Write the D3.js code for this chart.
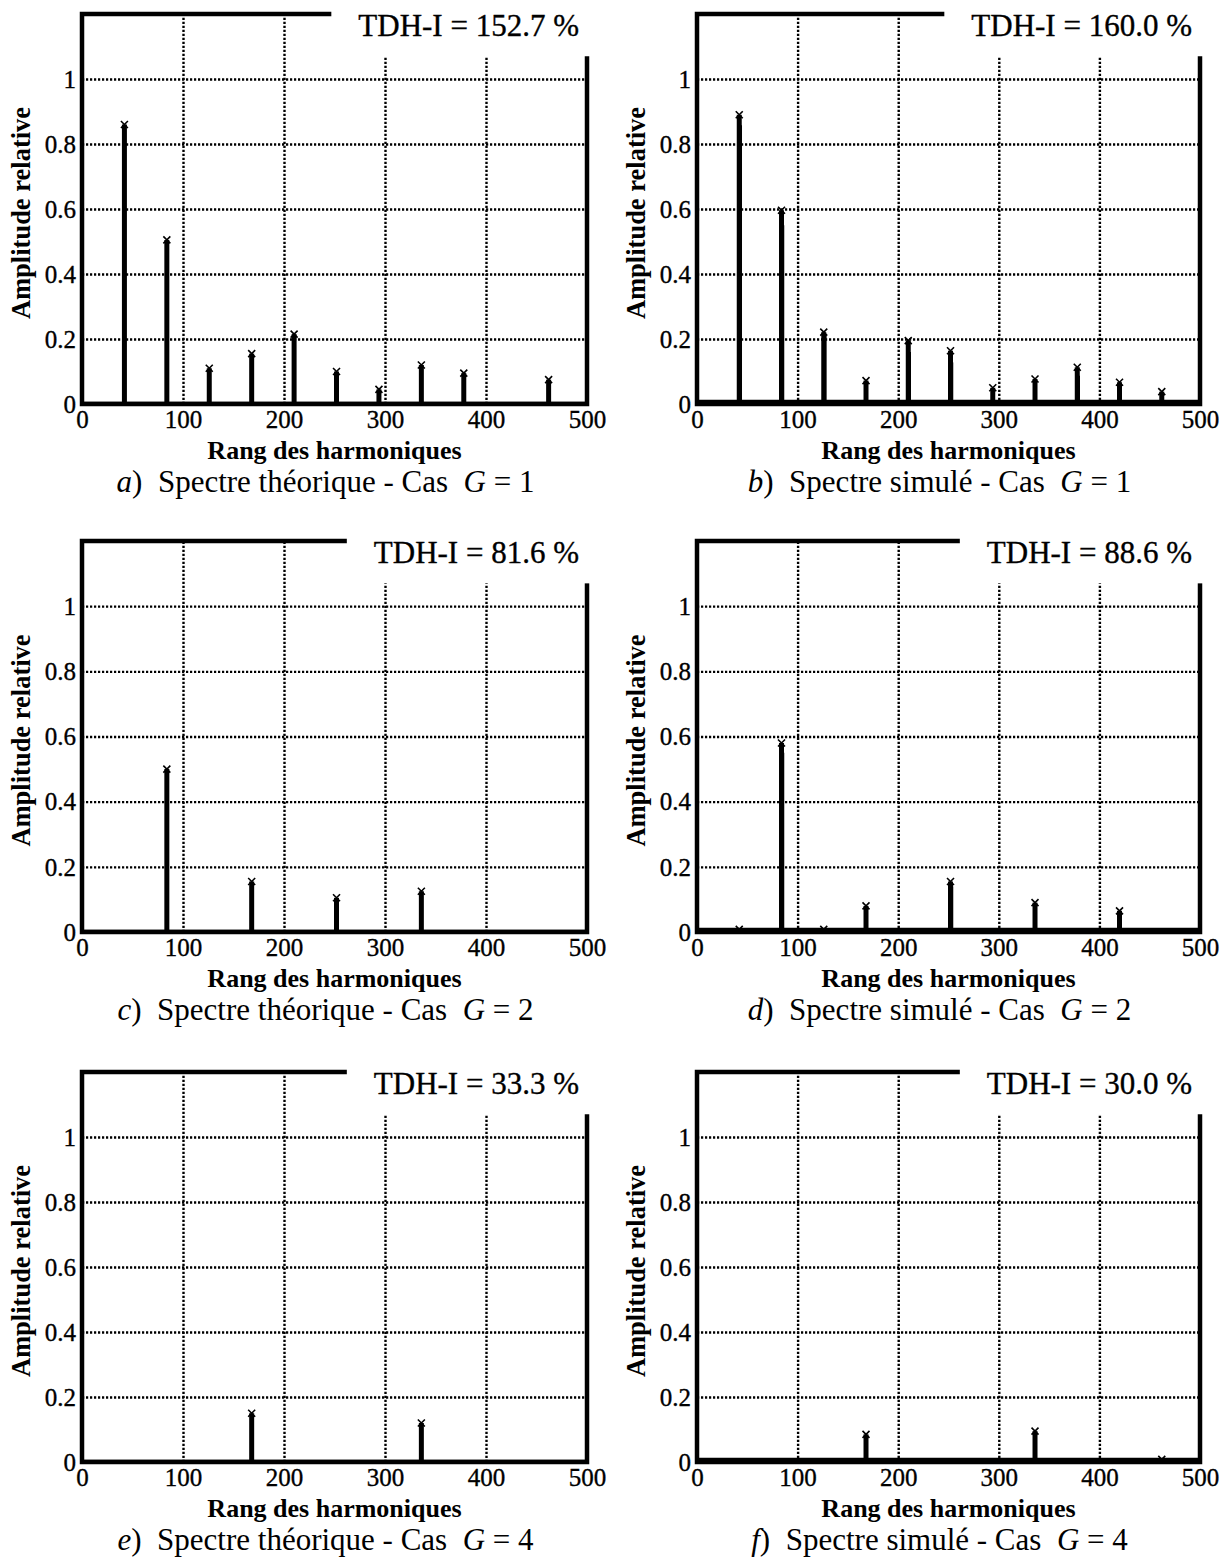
<!DOCTYPE html>
<html>
<head>
<meta charset="utf-8">
<script src="https://cdn.jsdelivr.net/npm/d3@7"></script>
<style>
  html, body { margin: 0; padding: 0; background: #ffffff; }
  svg { display: block; }
  text { font-family: "Liberation Serif", "Times New Roman", serif; fill: #000; }
  .heavy { stroke: #000; stroke-width: 0.35; }
</style>
</head>
<body>
<svg id="chart" width="1227" height="1565"></svg>
<script>
// ---------------- data ----------------
const xTicks = [0, 100, 200, 300, 400, 500];
const yTicks = [0, 0.2, 0.4, 0.6, 0.8, 1];
const yTickLabels = ["0", "0.2", "0.4", "0.6", "0.8", "1"];

const tdhLabels = ["TDH-I = 152.7 %", "TDH-I = 160.0 %", "TDH-I = 81.6 %",
                   "TDH-I = 88.6 %", "TDH-I = 33.3 %", "TDH-I = 30.0 %"];
const captionLetters = ["a", "b", "c", "d", "e", "f"];
const captionTexts = ["Spectre théorique - Cas", "Spectre simulé - Cas",
                      "Spectre théorique - Cas", "Spectre simulé - Cas",
                      "Spectre théorique - Cas", "Spectre simulé - Cas"];
const gValues = [1, 1, 2, 2, 4, 4];

// panel a : theoretical spectrum, G = 1
const harmA = [42, 84, 126, 168, 210, 252, 294, 336, 378, 462];
const ampA  = [0.86, 0.505, 0.11, 0.155, 0.215, 0.10, 0.045, 0.12, 0.095, 0.075];
// panel b : simulated spectrum, G = 1
const harmB = [42, 84, 126, 168, 210, 252, 294, 336, 378, 420, 462];
const ampB  = [0.89, 0.596, 0.221, 0.072, 0.195, 0.164, 0.05, 0.077, 0.113, 0.067, 0.038];
const sideHarmB = [43, 85, 127, 211, 253, 379];
const sideAmpB  = [0.858, 0.55, 0.21, 0.16, 0.128, 0.087];
// panel c : theoretical spectrum, G = 2
const harmC = [84, 168, 252, 336];
const ampC  = [0.50, 0.155, 0.105, 0.125];
// panel d : simulated spectrum, G = 2
const harmD = [42, 84, 126, 168, 252, 336, 420];
const ampD  = [0.008, 0.58, 0.008, 0.08, 0.155, 0.09, 0.065];
const sideHarmD = [85, 253];
const sideAmpD  = [0.55, 0.14];
// panel e : theoretical spectrum, G = 4
const harmE = [168, 336];
const ampE  = [0.15, 0.12];
// panel f : simulated spectrum, G = 4
const harmF = [168, 336, 462];
const ampF  = [0.085, 0.095, 0.008];
const sideHarmF = [];
const sideAmpF  = [];

const series = [
  { h: harmA, v: ampA, sh: [], sv: [], sim: false },
  { h: harmB, v: ampB, sh: sideHarmB, sv: sideAmpB, sim: true },
  { h: harmC, v: ampC, sh: [], sv: [], sim: false },
  { h: harmD, v: ampD, sh: sideHarmD, sv: sideAmpD, sim: true },
  { h: harmE, v: ampE, sh: [], sv: [], sim: false },
  { h: harmF, v: ampF, sh: sideHarmF, sv: sideAmpF, sim: true }
];

// ---------------- layout ----------------
const colX = [[82, 587], [697, 1200]];
const rowY = [[14, 404], [541, 932], [1072, 1462]];

const svg = d3.select("#chart");
svg.append("rect").attr("width", 1227).attr("height", 1565).attr("fill", "#fff");

series.forEach((s, i) => {
  const col = i % 2, row = Math.floor(i / 2);
  const [x0, x1] = colX[col];
  const [yTop, yBot] = rowY[row];
  const x = d3.scaleLinear().domain([0, 500]).range([x0, x1]);
  const y = d3.scaleLinear().domain([0, 1.2]).range([yBot, yTop]);
  const g = svg.append("g");

  // grid (dotted)
  const gridX = d3.axisBottom(x).tickValues(xTicks.slice(1, -1))
    .tickSize(-(yBot - yTop)).tickFormat("");
  g.append("g").attr("transform", `translate(0,${yBot})`).call(gridX)
    .call(a => a.select(".domain").remove())
    .call(a => a.selectAll("text").remove())
    .selectAll("line").attr("stroke", "#000").attr("stroke-width", 2.4)
    .attr("stroke-dasharray", "2.2,1.8");
  const gridY = d3.axisLeft(y).tickValues(yTicks.slice(1))
    .tickSize(-(x1 - x0)).tickFormat("");
  g.append("g").attr("transform", `translate(${x0},0)`).call(gridY)
    .call(a => a.select(".domain").remove())
    .call(a => a.selectAll("text").remove())
    .selectAll("line").attr("stroke", "#000").attr("stroke-width", 2.4)
    .attr("stroke-dasharray", "2.2,1.8");

  // frame
  g.append("rect").attr("x", x0).attr("y", yTop)
    .attr("width", x1 - x0).attr("height", yBot - yTop)
    .attr("fill", "none").attr("stroke", "#000").attr("stroke-width", 4.5);
  // thicker baseline (noise floor on simulated spectra)
  g.append("line").attr("x1", x0).attr("x2", x1)
    .attr("y1", y(0) - (s.sim ? 1.5 : 0.5)).attr("y2", y(0) - (s.sim ? 1.5 : 0.5))
    .attr("stroke", "#000").attr("stroke-width", s.sim ? 5.5 : 3.5);

  // legend box with TDH text
  const boxG = g.append("g");
  const tdh = g.append("text").attr("class", "heavy")
    .attr("x", x1 - 8).attr("y", yTop + 22)
    .attr("text-anchor", "end").attr("font-size", 31)
    .text(tdhLabels[i]);
  const tw = tdh.node().getComputedTextLength();
  const boxLeft = x1 - 8 - tw - 27;
  boxG.append("rect")
    .attr("x", boxLeft).attr("y", yTop - 14)
    .attr("width", x1 + 20 - boxLeft).attr("height", y(1.07) - (yTop - 14))
    .attr("fill", "#fff");

  // tick labels
  const axY = d3.axisLeft(y).tickValues(yTicks).tickSize(0).tickPadding(6)
    .tickFormat((d, k) => yTickLabels[k]);
  g.append("g").attr("transform", `translate(${x0},0)`).call(axY)
    .call(a => a.select(".domain").remove())
    .selectAll("text").attr("class", "heavy").attr("font-size", 25)
    .attr("font-family", '"Liberation Serif", "Times New Roman", serif')
    .attr("dy", "0.33em");
  const axX = d3.axisBottom(x).tickValues(xTicks).tickSize(0).tickPadding(6)
    .tickFormat(d3.format("d"));
  g.append("g").attr("transform", `translate(0,${yBot})`).call(axX)
    .call(a => a.select(".domain").remove())
    .selectAll("text").attr("class", "heavy").attr("font-size", 25)
    .attr("font-family", '"Liberation Serif", "Times New Roman", serif');

  // axis titles
  g.append("text").attr("x", (x0 + x1) / 2).attr("y", yBot + 55)
    .attr("text-anchor", "middle").attr("font-size", 26).attr("font-weight", "bold")
    .text("Rang des harmoniques");
  g.append("text")
    .attr("transform", `translate(${x0 - 52},${(yTop + yBot) / 2 + 4}) rotate(-90)`)
    .attr("text-anchor", "middle").attr("font-size", 26.5).attr("font-weight", "bold")
    .text("Amplitude relative");

  // caption
  const cap = g.append("text").attr("x", (x0 + x1) / 2 - 9).attr("y", yBot + 88)
    .attr("text-anchor", "middle").attr("font-size", 31)
    .style("white-space", "pre");
  cap.append("tspan").attr("font-style", "italic").text(captionLetters[i]);
  cap.append("tspan").text(")  " + captionTexts[i] + "  ");
  cap.append("tspan").attr("font-style", "italic").text("G");
  cap.append("tspan").text(" = " + gValues[i]);

  // side components (simulated spectra)
  s.sh.forEach((h, k) => {
    g.append("line").attr("x1", x(h)).attr("x2", x(h))
      .attr("y1", y(0)).attr("y2", y(s.sv[k]))
      .attr("stroke", "#000").attr("stroke-width", 3.5);
  });
  // stems
  s.h.forEach((h, k) => {
    const cx = x(h), cy = y(s.v[k]);
    g.append("line").attr("x1", cx).attr("x2", cx)
      .attr("y1", y(0)).attr("y2", cy)
      .attr("stroke", "#000").attr("stroke-width", 5);
    const m = 3.5;
    g.append("path")
      .attr("d", `M${cx - m},${cy - m}L${cx + m},${cy + m}M${cx - m},${cy + m}L${cx + m},${cy - m}`)
      .attr("stroke", "#000").attr("stroke-width", 1.6).attr("fill", "none");
  });
});
</script>
</body>
</html>
